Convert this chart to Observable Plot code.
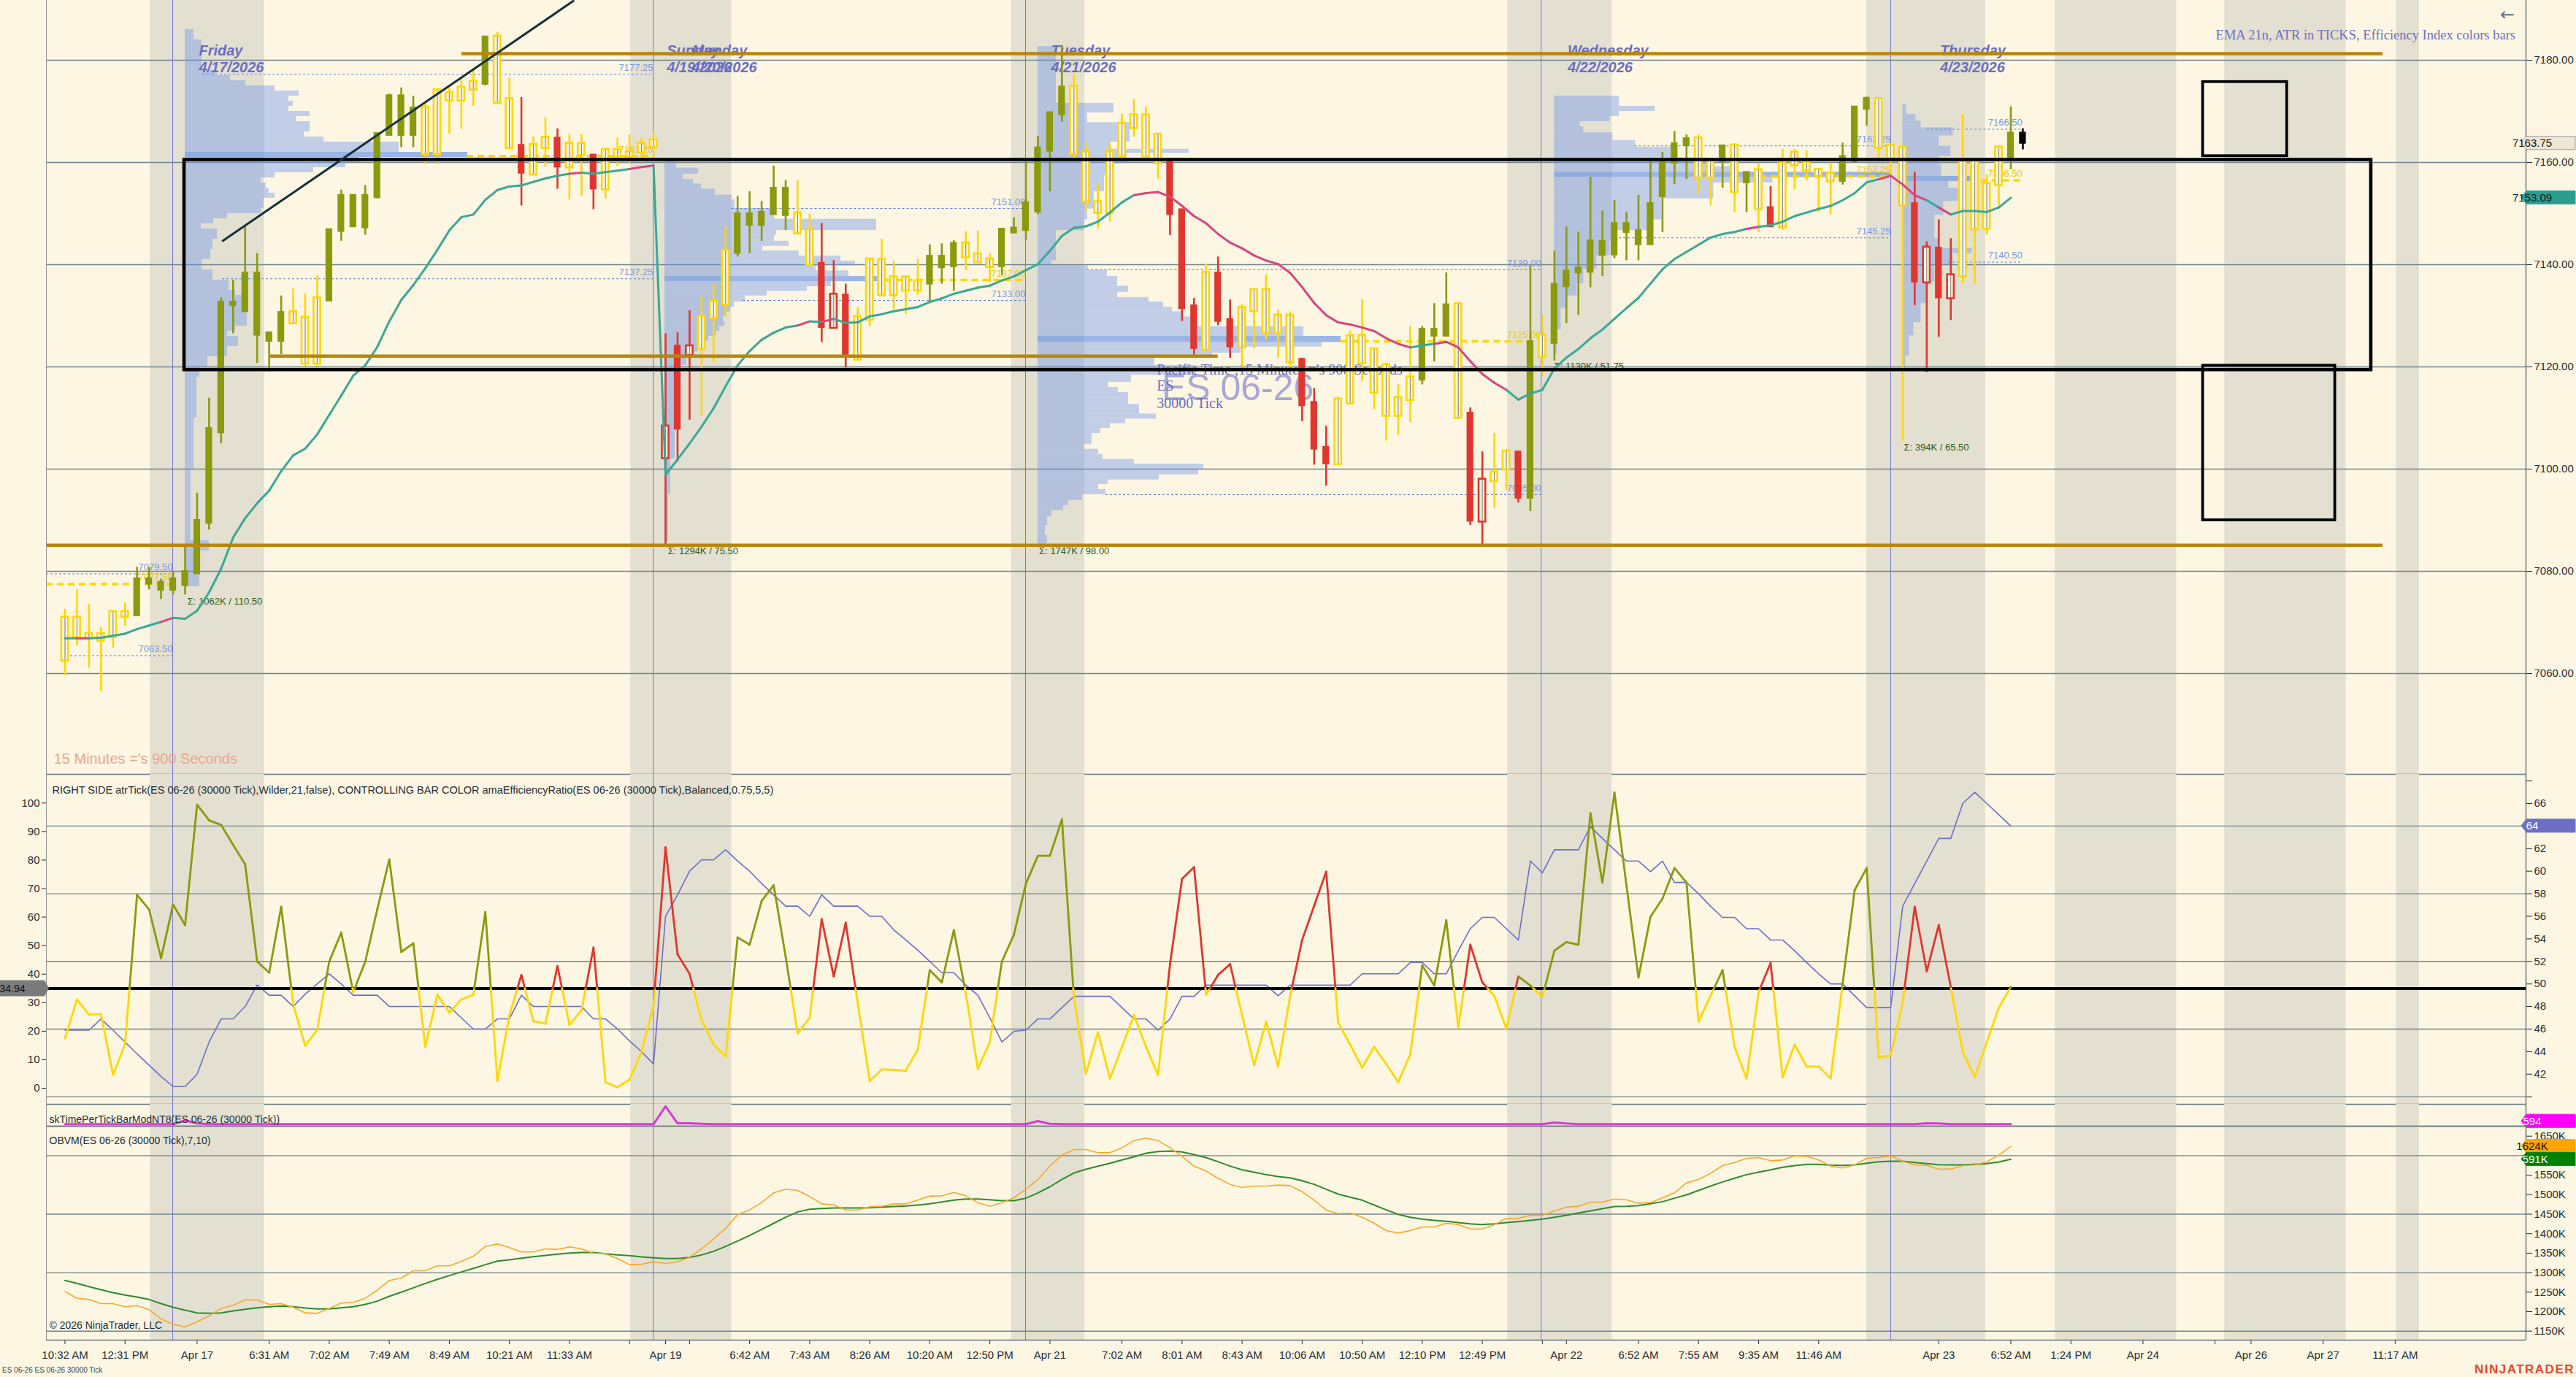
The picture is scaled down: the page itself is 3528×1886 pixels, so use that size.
<!DOCTYPE html>
<html><head><meta charset="utf-8">
<script src="https://cdn.jsdelivr.net/npm/d3@7"></script>
<script src="https://cdn.jsdelivr.net/npm/@observablehq/plot@0.6"></script>
<style>
html,body{margin:0;padding:0;background:#fdf6e3;}
#chart{position:relative;width:3528px;height:1886px;background:#fdf6e3;overflow:hidden;font-family:"Liberation Sans",Arial,sans-serif;}
#chart svg{position:absolute;left:0;overflow:visible;max-width:none;}
.note{position:absolute;white-space:nowrap;}
</style></head><body><div id="chart"></div>
<script>
// ---------------- DATA ----------------
// OHLC per bar (30000-tick bars), index = bar number
const ohlc = [
[7062.6,7072.6,7059.6,7070.9],[7070.9,7076.4,7065.4,7067.2],[7067.7,7073.5,7061.1,7067.0],[7066.5,7069.0,7056.5,7067.7],[7067.2,7072.0,7065.0,7072.0],
[7072.0,7073.8,7069.3,7071.2],[7071.3,7080.8,7071.3,7078.6],[7077.5,7080.8,7076.4,7078.6],[7077.9,7078.5,7074.5,7076.3],[7076.3,7080.0,7075.4,7078.6],
[7077.2,7085.3,7075.4,7080.0],[7079.5,7095.3,7079.5,7090.0],[7089.4,7113.9,7088.1,7108.0],[7107.1,7133.5,7105.0,7132.7],[7132.7,7137.0,7126.5,7132.0],
[7130.8,7147.4,7130.8,7138.4],[7138.4,7142.2,7120.7,7126.2],[7126.7,7126.7,7119.0,7125.0],[7125.0,7133.9,7122.4,7130.7],[7128.6,7135.3,7128.6,7130.7],
[7129.6,7134.3,7120.0,7120.7],[7120.7,7137.9,7120.0,7133.4],[7132.9,7146.9,7132.9,7146.9],[7146.5,7154.6,7144.6,7153.6],[7153.6,7153.6,7147.4,7147.4],
[7147.2,7155.5,7145.8,7153.6],[7153.1,7165.7,7152.9,7165.7],[7165.3,7173.4,7165.3,7173.1],[7173.1,7174.6,7162.9,7165.3],[7165.3,7173.0,7162.9,7170.7],
[7170.7,7171.5,7159.6,7161.7],[7161.7,7174.1,7159.6,7174.1],[7172.2,7174.6,7165.5,7173.6],[7172.2,7176.5,7166.5,7174.6],[7174.3,7178.1,7171.0,7175.8],
[7175.3,7184.6,7175.0,7184.6],[7184.6,7185.5,7171.7,7171.7],[7172.4,7176.5,7162.9,7162.9],[7163.4,7172.7,7151.5,7157.9],[7157.7,7165.0,7157.7,7163.4],
[7162.9,7168.8,7159.1,7164.8],[7164.8,7166.6,7154.8,7159.1],[7159.1,7165.5,7152.7,7163.6],[7163.6,7165.5,7153.4,7161.5],[7161.5,7161.5,7150.8,7154.8],
[7154.8,7162.4,7152.9,7162.4],[7162.4,7164.8,7159.3,7161.2],[7161.2,7165.4,7159.6,7162.0],[7162.0,7164.8,7160.3,7163.6],[7163.1,7166.0,7160.0,7164.3],
[7102.2,7126.5,7085.3,7108.3],[7124.1,7126.7,7101.4,7107.8],[7122.4,7131.0,7109.6,7124.0],[7123.6,7133.8,7110.3,7129.8],[7129.6,7136.2,7120.7,7132.7],
[7132.2,7147.4,7129.8,7142.7],[7142.2,7153.4,7141.5,7150.0],[7150.0,7154.3,7142.2,7147.7],[7147.7,7152.4,7144.6,7150.3],[7149.8,7159.3,7149.8,7155.0],
[7155.0,7156.5,7146.7,7149.6],[7150.0,7156.5,7145.8,7146.2],[7140.0,7149.8,7139.8,7146.7],[7140.3,7148.1,7124.8,7127.7],[7127.7,7140.8,7127.7,7134.1],
[7134.1,7136.2,7119.8,7122.4],[7121.5,7131.7,7121.5,7129.7],[7129.3,7141.0,7127.9,7141.0],[7134.1,7145.0,7134.1,7140.9],[7134.1,7140.7,7131.2,7137.5],
[7135.0,7137.7,7130.3,7137.5],[7135.0,7141.1,7134.0,7136.7],[7136.2,7143.9,7132.7,7141.7],[7139.4,7144.1,7136.2,7141.7],[7139.6,7144.7,7134.8,7144.2],
[7141.5,7146.5,7138.9,7144.1],[7142.0,7146.6,7140.5,7140.5],[7139.6,7142.2,7136.5,7141.0],[7139.6,7147.0,7137.9,7147.0],[7146.2,7149.2,7146.2,7147.2],
[7146.7,7160.5,7144.8,7152.2],[7150.3,7165.1,7149.8,7162.9],[7162.2,7169.8,7154.3,7169.8],[7169.3,7182.9,7167.9,7174.8],[7174.8,7177.2,7160.3,7161.7],
[7162.0,7163.9,7150.3,7152.4],[7152.2,7155.7,7147.0,7150.2],[7150.2,7163.7,7148.4,7162.0],[7161.3,7169.5,7160.9,7167.5],[7166.8,7172.3,7165.0,7169.2],
[7169.2,7170.9,7161.2,7161.2],[7159.9,7165.4,7156.7,7165.4],[7160.2,7160.2,7145.7,7149.8],[7150.8,7150.8,7128.9,7131.4],[7132.0,7133.4,7122.2,7123.6],
[7123.4,7140.0,7123.4,7138.4],[7138.4,7141.5,7128.1,7128.9],[7129.3,7133.1,7121.7,7123.9],[7123.9,7132.2,7119.8,7131.5],[7131.0,7135.0,7123.6,7135.0],
[7126.7,7138.1,7125.3,7135.0],[7130.0,7131.1,7121.7,7126.7],[7130.0,7130.8,7119.8,7121.0],[7121.5,7121.7,7109.3,7112.4],[7113.1,7115.8,7100.8,7103.9],
[7104.3,7108.4,7096.7,7101.0],[7101.0,7114.1,7100.8,7113.6],[7112.9,7127.0,7112.9,7126.0],[7120.8,7133.2,7117.2,7126.0],[7123.4,7123.4,7111.7,7115.0],
[7120.3,7120.8,7105.5,7110.5],[7110.5,7116.5,7106.7,7113.9],[7113.6,7127.9,7109.1,7117.9],[7117.4,7127.9,7116.5,7127.4],[7126.0,7132.4,7121.0,7127.4],
[7126.0,7138.4,7126.0,7132.2],[7132.2,7132.7,7109.8,7110.1],[7111.0,7112.0,7089.0,7089.8],[7089.8,7103.4,7085.3,7097.9],[7097.7,7107.0,7092.4,7099.3],
[7100.0,7103.9,7095.8,7103.4],[7103.4,7103.4,7093.4,7094.3],[7094.3,7139.8,7091.7,7125.0],[7122.0,7130.1,7118.1,7126.2],[7124.6,7142.7,7121.2,7136.2],
[7135.7,7147.4,7128.5,7138.8],[7138.4,7146.4,7130.1,7139.4],[7138.5,7157.1,7135.5,7144.7],[7141.8,7150.5,7137.7,7144.6],[7141.9,7152.6,7141.2,7148.1],
[7146.3,7150.2,7140.8,7148.1],[7143.9,7153.6,7140.8,7146.7],[7143.9,7160.2,7143.9,7152.0],[7153.3,7162.0,7146.3,7160.2],[7159.9,7166.1,7155.7,7163.7],
[7163.3,7165.4,7156.7,7164.7],[7164.7,7165.4,7154.0,7157.1],[7157.1,7159.9,7151.5,7160.2],[7160.2,7163.3,7155.0,7163.3],[7163.3,7163.7,7150.2,7154.3],
[7156.0,7158.1,7150.2,7158.1],[7150.9,7159.9,7146.3,7158.5],[7151.2,7155.3,7147.4,7147.4],[7147.4,7162.6,7146.7,7159.9],[7159.5,7162.6,7154.7,7161.9],
[7159.9,7162.3,7156.4,7158.5],[7158.5,7158.8,7150.2,7157.4],[7157.7,7159.9,7149.8,7156.4],[7156.3,7163.8,7155.6,7161.2],[7160.2,7171.0,7159.9,7170.9],
[7172.6,7172.8,7167.1,7170.4],[7162.9,7172.7,7160.2,7172.4],[7163.2,7163.6,7157.6,7160.9],[7162.9,7163.5,7105.5,7151.7],[7152.0,7158.1,7132.0,7136.6],
[7136.6,7144.5,7118.9,7143.3],[7143.3,7148.8,7125.8,7133.5],[7133.5,7145.1,7129.1,7137.9],[7137.8,7169.4,7136.3,7160.1],[7160.1,7160.1,7136.3,7147.0],
[7147.1,7157.6,7145.8,7155.8],[7155.6,7163.2,7151.4,7162.9],[7160.9,7170.9,7158.6,7165.8],[7165.8,7166.6,7162.5,7163.75]
];
// bar colour from the efficiency index: G olive, Y neutral, R red, K live bar
const barColors = ["YYYYYY","GGGGGGGGGGGGG","YYY","GGGGGGGG","YYYYY","G","YY","R","YY","R","YY","R","YYYYY","RRR","YYY","GGGGG","YY","RRR",
  "YYYYYY","GGG","YYY","GGGGGG","YYYYYYYY","RRR","Y","RR","YYYYY","RRR","YYYYYYY","GGG","Y","RR","YY","R","G","Y","GGGGGGGGGGGG",
  "YY","G","Y","G","Y","R","YYYYY","GGG","YYY","RRRR","YYYY","G","K"].join("").split("");

// EMA(21) values per bar
const ema21 = [7066.9,7066.9,7066.9,7067.0,7067.4,7067.8,7068.7,7069.4,7070.1,7070.9,
7070.7,7072.3,7075.9,7080.5,7086.6,7090.4,7093.3,7095.8,7099.6,7102.7,
7104.0,7106.8,7110.6,7114.4,7118.3,7120.3,7123.9,7128.9,7133.1,7136.0,
7139.3,7142.9,7146.7,7149.3,7149.8,7152.7,7154.6,7155.3,7155.5,7156.2,
7156.9,7157.4,7157.8,7158.0,7157.8,7158.1,7158.4,7158.7,7159.1,7159.4,
7098.9,7101.9,7105.0,7108.3,7111.9,7116.2,7120.3,7123.1,7125.3,7126.7,
7127.7,7128.1,7128.9,7128.8,7129.4,7128.6,7128.7,7129.9,7130.3,7130.9,
7131.3,7131.7,7132.7,7133.4,7134.3,7134.9,7135.5,7135.9,7136.9,7137.7,
7138.9,7140.1,7142.7,7145.6,7147.2,7147.5,7148.4,7150.2,7152.2,7153.6,
7154.0,7154.2,7153.3,7151.5,7149.5,7148.1,7146.0,7144.3,7143.2,7141.8,
7140.8,7140.1,7138.4,7135.6,7132.5,7130.1,7128.7,7128.3,7127.7,7127.0,
7125.6,7124.5,7123.8,7124.2,7124.5,7124.9,7123.8,7121.1,7118.6,7116.9,
7115.5,7113.6,7114.8,7115.5,7119.7,7121.8,7123.5,7125.6,7127.3,7129.4,
7131.5,7133.5,7136.3,7139.1,7141.1,7142.5,7143.9,7145.3,7146.0,7146.4,
7147.0,7147.4,7147.7,7148.4,7149.5,7150.2,7150.9,7151.5,7152.6,7154.0,
7156.1,7156.7,7157.4,7155.7,7153.6,7152.6,7151.2,7149.8,7150.5,7150.5,
7150.3,7151.2,7153.09];
// EMA segments drawn in the "falling" colour (start bar ranges)
const emaFallingRanges = [[1,1],[8,8],[42,42],[47,48],[61,61],[63,63],[89,111],[114,119],[140,140],[151,154],[156,156]];

// Efficiency ratio (left scale) and ATR in ticks (right scale)
const effRatio = [17.5,31.1,25.8,26.0,4.7,15.4,67.8,62.7,45.6,64.4,
57.2,99.4,93.9,92.3,85.3,78.5,44.4,40.5,63.6,29.4,
14.9,20.5,44.4,54.6,33.7,44.4,62.7,80.2,47.8,50.8,
14.5,32.8,26.5,31.1,32.8,61.8,2.5,25.6,39.7,23.5,
22.6,42.8,22.2,27.3,49.3,2.1,0.4,3.0,12.8,29.0,
84.5,46.9,40.1,23.9,15.4,11.1,52.9,50.3,65.7,71.2,
46.1,19.2,24.7,59.3,39.2,58.0,29.9,2.5,6.6,6.4,
6.1,13.6,41.4,37.1,55.4,33.3,6.8,16.2,44.4,53.8,
71.7,81.5,81.5,94.3,31.6,5.1,19.6,3.4,14.5,25.6,
14.5,4.7,43.5,73.4,77.5,32.8,39.7,43.5,25.6,8.1,
23.4,7.6,32.4,52.0,64.0,75.9,23.0,15.3,7.2,14.5,
8.5,2.1,11.9,43.1,36.0,58.9,21.3,50.3,37.1,32.4,
20.9,39.2,36.0,32.0,48.2,51.2,50.3,96.4,72.1,103.7,
71.2,38.8,60.1,66.5,77.2,72.1,23.4,32.4,41.4,14.5,
3.4,33.7,43.9,3.8,15.3,7.6,7.6,3.4,36.7,69.5,
77.2,10.7,11.5,30.0,63.6,41.0,57.2,35.5,12.8,3.8,
16.2,28.2,35.5];
const effThreshold = 34.94;
const atrTicks = [45.9,45.9,45.9,46.9,45.9,44.85,43.8,42.8,41.8,40.9,
40.9,42.0,44.85,46.9,46.9,48.0,49.9,49.0,49.0,48.0,
49.1,50.0,50.9,50.0,49.0,49.0,49.0,48.0,48.0,48.0,
48.0,48.0,48.0,47.0,46.0,46.0,46.9,46.9,49.0,48.0,
48.0,48.0,48.0,48.0,46.9,46.9,46.0,44.95,44.0,42.9,
56.0,57.9,60.0,61.0,61.0,61.9,60.9,60.0,58.9,57.9,
56.9,56.9,56.0,57.9,56.9,56.9,56.9,56.0,56.0,54.8,
53.9,53.0,52.0,51.0,51.0,49.9,49.0,47.0,44.85,45.8,
45.9,46.9,46.9,47.9,48.9,48.9,48.9,48.9,47.9,46.9,
46.9,45.9,46.9,48.9,48.9,49.9,49.9,49.9,49.9,49.9,
49.9,48.95,49.9,49.9,49.9,49.9,49.9,49.9,50.9,50.9,
50.9,50.9,51.9,51.9,50.9,50.9,52.95,54.9,55.9,55.9,
54.9,53.9,60.9,59.85,61.9,61.9,61.9,63.95,62.9,61.9,
60.9,60.9,59.96,60.9,59.0,59.0,58.0,56.9,55.9,55.9,
54.9,54.9,53.9,53.9,52.95,51.9,50.9,50.0,50.0,48.95,
47.9,47.9,47.9,56.9,58.9,60.9,62.9,62.9,66.0,67.0,
66.0,65.0,64.0];

// skTimePerTickBar: [bar, value] vertices
const timePerTick = [[0,600],[9,600],[10,1730],[11,800],[12,600],[49,600],[50,5900],[51,860],[52,860],[53,700],[54,600],
  [80,600],[81,1500],[82,700],[83,600],[123,600],[124,1100],[125,800],[126,620],[154,600],[155,870],[156,800],[157,620],[162,594]];

// OBV (K) and its signal line
const obvLine = [1251.8,1234.3,1231.2,1220.6,1220.6,1212.5,1215.6,1205.0,1181.3,1167.5,
1161.3,1173.8,1189.4,1208.1,1216.2,1230.0,1230.0,1218.7,1220.6,1211.2,
1196.9,1195.6,1208.1,1221.9,1223.7,1234.3,1255.0,1280.0,1286.1,1304.9,
1304.9,1317.4,1317.4,1328.6,1342.3,1367.3,1373.5,1364.2,1353.0,1353.0,
1361.1,1359.8,1366.1,1361.1,1349.8,1348.6,1336.1,1320.5,1321.7,1328.0,
1323.6,1328.0,1339.2,1361.1,1386.0,1414.1,1448.4,1460.9,1479.7,1504.6,
1514.0,1510.9,1495.3,1476.5,1473.4,1460.9,1460.9,1469.0,1470.3,1476.5,
1476.5,1485.9,1496.5,1497.1,1505.9,1497.1,1479.7,1470.3,1479.7,1492.1,
1514.0,1539.0,1573.3,1601.4,1615.7,1615.7,1607.6,1607.6,1620.1,1638.8,
1645.1,1638.8,1620.1,1598.3,1573.3,1560.8,1542.1,1526.5,1518.4,1522.1,
1522.1,1524.6,1523.3,1507.7,1485.9,1460.9,1451.6,1452.8,1442.2,1426.6,
1407.9,1401.6,1407.9,1417.2,1417.2,1426.6,1423.5,1412.2,1412.2,1423.5,
1439.1,1439.1,1447.2,1447.2,1457.8,1468.4,1470.3,1480.9,1480.9,1489.0,
1487.1,1477.8,1479.7,1492.1,1504.6,1530.8,1539.0,1554.6,1574.5,1582.6,
1593.3,1595.1,1587.0,1588.9,1599.5,1598.3,1588.9,1573.3,1568.3,1576.4,
1593.3,1595.1,1599.5,1585.8,1576.4,1575.2,1565.2,1565.8,1574.5,1576.4,
1584.5,1601.4,1623.8];
const obvSignal = [1279.9,1272.4,1264.3,1256.2,1248.7,1242.5,1237.5,1231.2,1220.6,1211.2,
1203.8,1196.9,1195.6,1196.9,1201.9,1206.2,1210.0,1212.5,1214.4,1212.5,
1209.4,1206.9,1206.9,1210.0,1212.5,1218.7,1226.9,1239.3,1250.0,1261.2,
1272.4,1283.0,1292.4,1301.8,1311.1,1320.5,1329.8,1333.0,1337.3,1341.1,
1344.2,1347.3,1350.5,1351.7,1351.7,1348.6,1345.4,1343.6,1340.4,1338.0,
1336.1,1336.1,1339.2,1345.4,1354.8,1367.3,1381.0,1395.4,1411.0,1426.6,
1442.2,1455.9,1462.8,1464.7,1465.9,1465.9,1465.9,1466.5,1468.4,1469.7,
1470.9,1473.4,1476.5,1481.5,1485.9,1489.0,1489.0,1487.1,1484.6,1484.6,
1490.9,1504.6,1520.2,1539.0,1555.8,1565.2,1573.3,1580.8,1588.9,1597.0,
1606.4,1610.7,1612.0,1609.5,1602.6,1595.1,1584.5,1573.3,1563.9,1557.7,
1551.4,1546.4,1543.3,1535.8,1526.5,1514.0,1501.5,1493.4,1485.9,1473.4,
1460.9,1449.7,1442.2,1437.2,1434.1,1431.6,1428.5,1425.3,1423.5,1425.3,
1428.5,1431.0,1434.1,1437.2,1442.2,1447.2,1453.4,1458.4,1464.1,1469.7,
1470.3,1472.2,1476.5,1482.1,1490.9,1499.6,1510.9,1522.1,1532.7,1542.1,
1551.4,1557.7,1563.9,1570.2,1574.5,1577.7,1577.7,1575.8,1575.2,1576.4,
1580.8,1584.5,1585.8,1585.8,1582.6,1579.5,1577.0,1576.4,1576.4,1577.7,
1579.5,1583.9,1590.8];

// volume profiles: start bar + rows [low, high, volume(rel), poc]
const profileFri = {start: 10.0, rows: [[7184,7186,12],[7178,7184,23],[7177,7178,42],[7176,7177,62],[7175,7176,83],[7174,7175,123],[7173,7174,156],[7172,7173,142],[7171,7172,148],[7170,7171,142],[7169,7170,171],[7168,7169,152],[7166,7168,171],[7165,7166,163],[7164,7165,190],[7162,7164,293],[7161,7162,387,1],[7160,7161,238],[7159,7160,220],[7158,7159,176],[7157,7158,123],[7156,7157,104],[7155,7156,111],[7154,7155,115],[7153,7154,123],[7151,7153,108],[7150,7151,104],[7149,7150,58],[7148,7149,39],[7147,7148,22],[7145,7147,44],[7143,7145,38],[7141,7143,35],[7139,7141,23],[7137,7139,38],[7135,7137,60],[7134,7135,69],[7132,7134,81],[7128,7132,85],[7127,7128,69],[7126,7127,58],[7124,7126,73],[7122,7124,58],[7120,7122,31],[7118,7120,20],[7110,7118,16],[7100,7110,12],[7086,7100,8],[7084,7086,33],[7077,7084,20]]};
const profileMon = {start: 49.94, rows: [[7158.9,7160.3,16],[7157.7,7158.9,46],[7156.7,7157.7,25],[7155.8,7156.7,39],[7154.8,7155.8,50],[7153.6,7154.8,69],[7152.7,7153.6,92],[7151.0,7152.7,96],[7148.9,7151.0,150],[7146.7,7148.9,290],[7145.8,7146.7,153],[7144.6,7145.8,150],[7143.6,7144.6,170],[7142.7,7143.6,134],[7141.7,7142.7,184],[7140.7,7141.7,241],[7139.8,7140.7,261],[7138.8,7139.8,207],[7137.7,7138.8,252],[7136.7,7137.7,295,1],[7135.7,7136.7,228],[7134.8,7135.7,195],[7133.9,7134.8,140],[7132.7,7133.9,110],[7131.7,7132.7,95],[7130.8,7131.7,90],[7129.8,7130.8,85],[7128.9,7129.8,80],[7127.9,7128.9,82],[7127.0,7127.9,75],[7126.0,7127.0,70],[7125.0,7126.0,60],[7123.9,7125.0,55],[7122.9,7123.9,45],[7121.7,7122.9,40],[7120.3,7121.7,30],[7115.0,7120.3,22],[7108.0,7115.0,18],[7102.0,7108.0,14],[7095.0,7102.0,8],[7086.0,7095.0,5]]};
const profileTue = {start: 81.0, rows: [[7171.6,7182.7,25],[7169.7,7171.6,104],[7167.8,7169.7,68],[7164.0,7167.8,126],[7162.6,7164.0,99],[7161.8,7162.6,207],[7159.8,7161.8,122],[7157.4,7159.8,104],[7154.3,7157.4,91],[7150.9,7154.3,77],[7148.8,7150.9,68],[7146.7,7148.8,64],[7140.8,7146.7,25],[7139.8,7140.8,19],[7138.9,7139.8,69],[7137.7,7138.9,95],[7135.8,7137.7,109],[7134.6,7135.8,124],[7133.6,7134.6,109],[7132.7,7133.6,152],[7131.7,7132.7,172],[7130.8,7131.7,184],[7129.8,7130.8,198],[7128.9,7129.8,211],[7127.9,7128.9,211],[7127.0,7127.9,364],[7126.0,7127.0,364],[7124.8,7126.0,415,1],[7123.9,7124.8,389],[7122.7,7123.9,278],[7122.0,7122.7,239],[7120.3,7122.0,160],[7118.4,7120.3,217],[7117.0,7118.4,128],[7116.0,7117.0,96],[7115.0,7116.0,110],[7113.9,7115.0,124],[7112.7,7113.9,124],[7111.7,7112.7,139],[7110.8,7111.7,139],[7109.8,7110.8,162],[7108.9,7109.8,120],[7108.0,7108.9,99],[7107.0,7108.0,86],[7104.8,7107.0,74],[7103.9,7104.8,64],[7102.9,7103.9,83],[7101.9,7102.9,89],[7101.0,7101.9,132],[7100.0,7101.0,227],[7098.9,7100.0,220],[7097.9,7098.9,166],[7097.0,7097.9,96],[7096.0,7097.0,83],[7095.0,7096.0,93],[7093.9,7095.0,61],[7092.9,7093.9,42],[7091.9,7092.9,35],[7090.7,7091.9,19],[7088.9,7090.7,13],[7087.0,7088.9,10],[7085.3,7087.0,13]]};
const profileWed = {start: 124.0, rows: [[7171,7173,89],[7170,7171,138],[7169,7170,89],[7168,7169,76],[7167,7168,35],[7165.8,7167,40],[7164.3,7165.8,80],[7163,7164.3,111],[7160.9,7163,165],[7159.2,7160.9,209],[7158.1,7159.2,250],[7157.1,7158.1,460,1],[7156,7157.1,299],[7152.9,7156,218],[7148.8,7152.9,147],[7146.7,7148.8,129],[7144.6,7146.7,80],[7141.8,7144.6,76],[7139.1,7141.8,58],[7136.3,7139.1,40],[7133.9,7136.3,31],[7131.5,7133.9,18],[7127.3,7131.5,9],[7122.5,7127.3,4]]};
const profileThu = {start: 153.0, rows: [[7169.4,7171.4,5],[7168.1,7169.4,18],[7166.8,7168.1,25],[7165.2,7166.8,69],[7163.2,7165.2,50],[7161.2,7163.2,66],[7159.6,7161.2,50],[7157.3,7159.6,53],[7156.3,7157.3,95,1],[7155,7156.3,63],[7152.4,7155,76],[7149.7,7152.4,56],[7147.1,7149.7,44],[7145.1,7147.1,44],[7143.2,7145.1,50],[7142.2,7143.2,95],[7139.9,7142.2,69],[7136.6,7139.9,44],[7132.4,7136.6,34],[7128.7,7132.4,25],[7126.1,7128.7,15],[7122.2,7126.1,9],[7119.6,7122.2,4]]};
const profileVolPerBar = 16.45; // relative volume units per bar width

// value area lines: [fromBar, toBar, price, kind, label]
const valueAreaLines = [
 [-1.55,8.97,7079.5,"va","7079.50"],[-1.55,8.97,7077.5,"poc","7077.50"],[-0.27,8.97,7063.5,"va","7063.50"],
 [11.46,48.97,7177.25,"va","7177.25"],[33.46,48.97,7161.25,"poc","7161.25"],[13.1,48.97,7137.25,"va","7137.25"],
 [55.5,79.97,7151.0,"va","7151.00"],[68.2,79.97,7137.0,"poc","7137.00"],[56.45,79.97,7133.0,"va","7133.00"],
 [85.1,122.9,7139.0,"va","7139.00"],[106.2,122.9,7125.0,"poc","7125.00"],[86.65,122.9,7095.0,"va","7095.00"],
 [130.7,152.0,7163.25,"va","7163.25"],[141.1,152.0,7157.25,"poc","7157.25"],[129.4,152.0,7145.25,"va","7145.25"],
 [155.0,162.96,7166.5,"va","7166.50"],[158.6,162.96,7156.5,"poc","7156.50"],[156.8,162.96,7140.5,"va","7140.50"]
];
// profile totals: [bar, price, text]
const profileTotals = [[10.2,7074.1,"Σ: 1062K / 110.50"],[50.2,7083.9,"Σ: 1294K / 75.50"],[81.1,7083.9,"Σ: 1747K / 98.00"],[124.0,7120.1,"Σ: 1130K / 51.75"],[153.1,7104.3,"Σ: 394K / 65.50"]];

// drawing objects
const goldLines = [[33.04,192.97,7181.3],[17.11,96.0,7122.1],[-1.55,192.97,7085.1]];
const bigBox = [[9.94,192.0,7119.4,7160.5]];
const smallBoxes = [[178.0,185.0,7161.25,7175.75],[178.0,189.0,7090.0,7120.25]];
const trendLine = [[13.08,7144.57,42.39,7191.71]];

// sessions
const sessionBands = [[7.1,16.6],[47.1,55.5],[78.8,84.9],[120.1,128.8],[150.0,159.9],[165.7,175.8],[179.8,189.9],[194.1,196.0]];
const sessionBreaks = [8.97,48.97,79.97,122.9,152.0];
const dayNames = [[11.15,"Friday","4/17/2026"],[50.1,"Sunday","4/19/2026"],[52.2,"Monday","4/20/2026"],[82.1,"Tuesday","4/21/2026"],[125.1,"Wednesday","4/22/2026"],[156.1,"Thursday","4/23/2026"]];

// time axis
const timeTickBars = [0,5,11,17,22,27,32,37,42,47,50,52,57,62,67,72,77,82,88,93,98,103,108,113,118,123,125,131,136,141,146,156,162,167,173,179,182,188,194];
const timeTickLabels = ["10:32 AM","12:31 PM","Apr 17","6:31 AM","7:02 AM","7:49 AM","8:49 AM","10:21 AM","11:33 AM","","Apr 19","","6:42 AM","7:43 AM","8:26 AM","10:20 AM","12:50 PM","Apr 21","7:02 AM","8:01 AM","8:43 AM","10:06 AM","10:50 AM","12:10 PM","12:49 PM","","Apr 22","6:52 AM","7:55 AM","9:35 AM","11:46 AM","Apr 23","6:52 AM","1:24 PM","Apr 24","","Apr 26","Apr 27","11:17 AM"];
const priceTicks = [7060,7080,7100,7120,7140,7160,7180];
const atrAxisTicks = [40,42,44,46,48,50,52,54,56,58,60,62,64,66,68];
const atrGrid = [40,46,52,58,64];
const effAxisTicks = [0,10,20,30,40,50,60,70,80,90,100];
const obvAxisTicks = [1150,1200,1250,1300,1350,1400,1450,1500,1550,1600,1650];
const obvGrid = [1150,1300,1450,1600];

// ---------------- CHART ----------------
const W = 3528;
const XMIN = -1.55, XMAX = 204.89;
const PRICE_MAX = 7180 + 82/7, PRICE_MIN = PRICE_MAX - 1060/7;
const ATR_DOM = [39.33, 68.59], EFF_DOM = [-5.63, 110.06], SK_DOM = [0, 6500], OBV_DOM = [1126.97, 1675.66];
const FONT = '"Liberation Sans", Arial, sans-serif';
const SERIF = '"Liberation Serif", "Times New Roman", serif';
const BG = "#fdf6e3", BAND = "#e3e0d1", GRID = "#72858c", SEP = "#6f74d8", BORDER = "#66787f";
const OLIVE = "#8a9a0c", YEL = "#ffd700", RED = "#e0362e", BLK = "#000000";
const TEAL = "#3aa896", PINK = "#d8467f", DAYC = "#6a6dc4";
const colorOf = c => ({G: OLIVE, Y: YEL, R: RED, K: BLK})[c];

const chart = document.getElementById("chart");
function basePlot(opts) {
  return Plot.plot(Object.assign({
    width: W, marginLeft: 63, marginRight: 69, marginTop: 0, marginBottom: 0,
    style: {background: "transparent", overflow: "visible", fontFamily: FONT, fontSize: "15px", color: "#1f2d37", maxWidth: "none"},
    color: {type: "identity"}
  }, opts));
}
function place(p, top) { p.style.position = "absolute"; p.style.top = top + "px"; p.style.left = "0px"; chart.appendChild(p); return p; }
const bandMark = () => Plot.rect(sessionBands, {x1: d => d[0], x2: d => d[1], fill: BAND});
const breakMark = () => Plot.ruleX(sessionBreaks, {stroke: SEP, strokeWidth: 1});
const borderMarks = () => [Plot.ruleX([XMIN], {stroke: "#8c9496", strokeWidth: 1}), Plot.ruleX([XMAX], {stroke: BORDER, strokeWidth: 1.5})];

// candles
const candles = ohlc.map((r, i) => ({i, o: r[0], h: r[1], l: r[2], c: r[3], col: barColors[i]}));
const isHollow = d => d.col === "Y" || (d.col === "R" && d.c > d.o);
const bodyHalf = 0.28;
// EMA segments
const isFalling = i => emaFallingRanges.some(([a, b]) => i >= a && i <= b);
const emaSegs = ema21.slice(1).map((v, k) => ({x1: k, y1: ema21[k], x2: k + 1, y2: v, pink: isFalling(k)}));
// profiles
const profRects = [];
for (const p of [profileFri, profileMon, profileTue, profileWed, profileThu])
  for (const r of p.rows) profRects.push({x1: p.start, x2: p.start + r[2] / profileVolPerBar, y1: r[0], y2: r[1], poc: !!r[3]});
const vaData = valueAreaLines.map(d => ({x1: d[0], x2: d[1], y: d[2], kind: d[3], label: d[4]}));

const pricePlot = place(basePlot({
  height: 1060,
  x: {domain: [XMIN, XMAX], axis: null},
  y: {domain: [PRICE_MIN, PRICE_MAX], axis: "right", ticks: priceTicks, tickFormat: d => d.toFixed(2), tickSize: 8, tickPadding: 3, label: null},
  marks: [
    bandMark(),
    Plot.ruleY(priceTicks, {stroke: GRID, strokeWidth: 1.4}),
    breakMark(),
    Plot.rect(profRects.filter(d => !d.poc), {x1: "x1", x2: "x2", y1: "y1", y2: "y2", fill: "#6f96ec", fillOpacity: 0.42}),
    Plot.rect(profRects.filter(d => d.poc), {x1: "x1", x2: "x2", y1: "y1", y2: "y2", fill: "#5a8ae6", fillOpacity: 0.6}),
    Plot.ruleY(vaData.filter(d => d.kind === "va"), {x1: "x1", x2: "x2", y: "y", stroke: "#5b7fd8", strokeWidth: 1.2, strokeDasharray: "3,3"}),
    Plot.ruleY(vaData.filter(d => d.kind === "poc"), {x1: "x1", x2: "x2", y: "y", stroke: YEL, strokeWidth: 3.5, strokeDasharray: "9,6"}),
    Plot.text(vaData, {x: "x2", y: "y", text: "label", textAnchor: "end", dy: -9, fontSize: 13, fill: d => d.kind === "poc" ? "#ecc820" : "#7b98e0"}),
    Plot.text(profileTotals, {x: d => d[0], y: d => d[1], text: d => d[2], textAnchor: "start", fontSize: 13, fill: "#2d5a16"}),
    // watermark & notes
    Plot.text(["ES 06-26"], {x: 91.3, y: 7113.43, text: d => d, textAnchor: "start", lineAnchor: "bottom", fontSize: 50, fill: "#a9a7d4"}),
    Plot.text([["Pacific Time ,15 Minutes ='s 900 Seconds", 7118.43], ["ES", 7115.29], ["30000 Tick", 7112.0]], {x: 90.9, y: d => d[1], text: d => d[0], textAnchor: "start", lineAnchor: "bottom", fontSize: 20, fontFamily: SERIF, fill: "#6c6fc4"}),
    Plot.text(["15 Minutes ='s 900 Seconds"], {x: -0.93, y: 7043.3, text: d => d, textAnchor: "start", fontSize: 20, fill: "#eca58d"}),
    Plot.text(dayNames, {x: d => d[0], frameAnchor: "top", dy: 61, text: d => d[1], textAnchor: "start", fontSize: 20, fontWeight: "bold", fontStyle: "italic", fill: DAYC}),
    Plot.text(dayNames, {x: d => d[0], frameAnchor: "top", dy: 84, text: d => d[2], textAnchor: "start", fontSize: 20, fontWeight: "bold", fontStyle: "italic", fill: DAYC}),
    // candles
    Plot.ruleX(candles, {x: "i", y1: "l", y2: "h", stroke: d => colorOf(d.col), strokeWidth: 2.6}),
    Plot.rect(candles.filter(d => !isHollow(d)), {x1: d => d.i - bodyHalf, x2: d => d.i + bodyHalf, y1: "o", y2: "c", fill: d => colorOf(d.col), insetTop: -1, insetBottom: -1}),
    Plot.rect(candles.filter(isHollow), {x1: d => d.i - bodyHalf, x2: d => d.i + bodyHalf, y1: "o", y2: "c", fill: BG, stroke: d => colorOf(d.col), strokeWidth: 2.6, insetTop: -1, insetBottom: -1}),
    Plot.ruleX(candles.filter(isHollow), {x: "i", y1: "o", y2: "c", stroke: "#8e8b7c", strokeWidth: 1.2}),
    // EMA
    Plot.link(emaSegs, {x1: "x1", y1: "y1", x2: "x2", y2: "y2", stroke: d => d.pink ? PINK : TEAL, strokeWidth: 3, strokeLinecap: "round"}),
    // drawing objects
    Plot.ruleY(goldLines, {x1: d => d[0], x2: d => d[1], y: d => d[2], stroke: "#b8860b", strokeWidth: 4.5}),
    Plot.rect(bigBox, {x1: d => d[0], x2: d => d[1], y1: d => d[2], y2: d => d[3], fill: "none", stroke: "#000", strokeWidth: 4.6}),
    Plot.rect(smallBoxes, {x1: d => d[0], x2: d => d[1], y1: d => d[2], y2: d => d[3], fill: "none", stroke: "#000", strokeWidth: 3.8}),
    Plot.link(trendLine, {x1: d => d[0], y1: d => d[1], x2: d => d[2], y2: d => d[3], stroke: "#17303a", strokeWidth: 3}),
    ...borderMarks(),
    Plot.ruleY([PRICE_MIN], {stroke: BORDER, strokeWidth: 1.6})
  ]
}), 0);

// ATR panel (right scale)
const atrPlot = place(basePlot({
  height: 452,
  x: {domain: [XMIN, XMAX], axis: null},
  y: {domain: ATR_DOM, axis: "right", ticks: atrAxisTicks, tickFormat: d => (d === 40 || d === 68) ? "" : String(d), tickSize: 8, tickPadding: 3, label: null},
  marks: [
    bandMark(), breakMark(),
    Plot.ruleY(atrGrid, {stroke: GRID, strokeWidth: 1.4}),
    Plot.ruleY([ATR_DOM[0]], {stroke: BORDER, strokeWidth: 1.6}),
    Plot.line(atrTicks.map((v, i) => [i, v]), {x: d => d[0], y: d => d[1], stroke: "#6b6fc8", strokeWidth: 1.6}),
    ...borderMarks()
  ]
}), 1060);

// Efficiency ratio overlay (left scale), coloured by threshold
const erSegs = [];
const above = (c) => c === "R" ? RED : OLIVE;
for (let i = 1; i < effRatio.length; i++) {
  const a = effRatio[i - 1], b = effRatio[i], T = effThreshold;
  const ca = barColors[i - 1], cb = barColors[i];
  if ((a >= T) === (b >= T)) {
    erSegs.push({x1: i - 1, y1: a, x2: i, y2: b, s: a >= T ? (cb === "R" || cb === "G" ? above(cb) : above(ca)) : YEL});
  } else {
    const xm = i - 1 + (T - a) / (b - a);
    erSegs.push({x1: i - 1, y1: a, x2: xm, y2: T, s: a >= T ? above(ca) : YEL});
    erSegs.push({x1: xm, y1: T, x2: i, y2: b, s: b >= T ? above(cb) : YEL});
  }
}
const erPlot = place(basePlot({
  height: 452,
  x: {domain: [XMIN, XMAX], axis: null},
  y: {domain: EFF_DOM, axis: "left", ticks: effAxisTicks, tickSize: 6, tickPadding: 3, label: null},
  marks: [
    Plot.ruleY([effThreshold], {stroke: "#000", strokeWidth: 4.2}),
    Plot.link(erSegs, {x1: "x1", y1: "y1", x2: "x2", y2: "y2", stroke: "s", strokeWidth: 2.8, strokeLinecap: "round"}),
    Plot.text(["RIGHT SIDE atrTick(ES 06-26 (30000 Tick),Wilder,21,false), CONTROLLING BAR COLOR amaEfficiencyRatio(ES 06-26 (30000 Tick),Balanced,0.75,5,5)"],
      {frameAnchor: "top-left", dx: 8, dy: 16, text: d => d, textAnchor: "start", fontSize: 14.5, fill: "#1f2d37"})
  ]
}), 1060);

// skTimePerTick panel
const skPlot = place(basePlot({
  height: 30,
  x: {domain: [XMIN, XMAX], axis: null},
  y: {domain: SK_DOM, axis: null},
  marks: [
    bandMark(), breakMark(),
    Plot.ruleY([SK_DOM[0]], {stroke: BORDER, strokeWidth: 1.6}),
    Plot.line(timePerTick, {x: d => d[0], y: d => d[1], stroke: "#d63ad6", strokeWidth: 3}),
    Plot.text(["skTimePerTickBarModNT8(ES 06-26 (30000 Tick))"], {frameAnchor: "top-left", dx: 4, dy: 16, text: d => d, textAnchor: "start", fontSize: 14, fill: "#1f2d37"}),
    ...borderMarks()
  ]
}), 1512);

// OBV panel with time axis
const tickLabelMap = new Map(timeTickBars.map((b, k) => [b, timeTickLabels[k]]));
const obvPlot = place(basePlot({
  height: 344, marginBottom: 51,
  x: {domain: [XMIN, XMAX], ticks: timeTickBars, tickFormat: d => tickLabelMap.get(d) ?? "", tickSize: 6, tickPadding: 9, label: null},
  y: {domain: OBV_DOM, axis: "right", ticks: obvAxisTicks, tickFormat: d => d + "K", tickSize: 8, tickPadding: 3, label: null},
  marks: [
    bandMark(), breakMark(),
    Plot.ruleY(obvGrid, {stroke: GRID, strokeWidth: 1.4}),
    Plot.ruleY([OBV_DOM[0]], {stroke: BORDER, strokeWidth: 1.6}),
    Plot.ruleY([OBV_DOM[1]], {stroke: BORDER, strokeWidth: 1.6}),
    Plot.line(obvSignal.map((v, i) => [i, v]), {x: d => d[0], y: d => d[1], stroke: "#2e8b2e", strokeWidth: 2}),
    Plot.line(obvLine.map((v, i) => [i, v]), {x: d => d[0], y: d => d[1], stroke: "#f7a82a", strokeWidth: 1.6}),
    Plot.text(["OBVM(ES 06-26 (30000 Tick),7,10)"], {frameAnchor: "top-left", dx: 4, dy: 15, text: d => d, textAnchor: "start", fontSize: 14, fill: "#1f2d37"}),
    Plot.text(["© 2026 NinjaTrader, LLC"], {frameAnchor: "bottom-left", dx: 4, dy: -16, text: d => d, textAnchor: "start", fontSize: 14, fill: "#1f2d37"}),
    ...borderMarks()
  ]
}), 1542);

// ---------------- value tags on the axes ----------------
function tagRight(p, value, text, fill, textColor, stroke, yOff = 0) {
  const x0 = p.scale("x").apply(XMAX), y = p.scale("y").apply(value) + yOff, h = 9;
  const g = d3.select(p).append("g");
  g.append("path").attr("d", `M${x0 - 6},${y}L${x0 + 1},${y - h}H${W - 1}V${y + h}H${x0 + 1}Z`).attr("fill", fill).attr("stroke", stroke || fill);
  g.append("text").attr("x", x0 + 9).attr("y", y).attr("dy", "0.36em").attr("fill", textColor).attr("font-size", 15).attr("font-family", FONT).text(text);
}
function tagLeft(p, value, text, fill, textColor) {
  const x0 = p.scale("x").apply(XMIN), y = p.scale("y").apply(value), h = 11;
  const g = d3.select(p).append("g");
  g.append("path").attr("d", `M0,${y - h}H${x0 - 2}L${x0 + 4},${y}L${x0 - 2},${y + h}H0Z`).attr("fill", fill);
  g.append("text").attr("x", 17).attr("y", y).attr("dy", "0.36em").attr("fill", textColor).attr("font-size", 14).attr("font-family", FONT).text(text);
}
tagRight(pricePlot, ohlc[ohlc.length - 1][3], ohlc[ohlc.length - 1][3].toFixed(2), "#eee7d6", "#111", "#9a9a9a");
tagRight(pricePlot, ema21[ema21.length - 1], ema21[ema21.length - 1].toFixed(2), "#2a9d8f", "#0b1a1a");
tagRight(atrPlot, atrTicks[atrTicks.length - 1], String(atrTicks[atrTicks.length - 1]), "#6b6fc8", "#ffffff");
tagLeft(erPlot, effThreshold, effThreshold.toFixed(2), "#7b7b7b", "#111");
tagRight(skPlot, timePerTick[timePerTick.length - 1][1], String(timePerTick[timePerTick.length - 1][1]), "#ff00ff", "#ffffff", null, -4);
tagRight(obvPlot, obvLine[obvLine.length - 1], Math.round(obvLine[obvLine.length - 1]) + "K", "#ffa500", "#111");
tagRight(obvPlot, obvSignal[obvSignal.length - 1], Math.round(obvSignal[obvSignal.length - 1]) + "K", "#008000", "#ffffff");

// ---------------- page notes ----------------
function note(text, css) { const d = document.createElement("div"); d.className = "note"; d.textContent = text; Object.assign(d.style, css); chart.appendChild(d); }
note("EMA 21n, ATR in TICKS, Efficiency Index colors bars", {right: "83px", top: "38px", fontFamily: SERIF, fontSize: "18.5px", color: "#6c6fc4"});
note("\u2190", {left: "3424px", top: "6px", fontSize: "24px", color: "#5f7480", fontFamily: "DejaVu Sans"});
note("ES 06-26 ES 06-26 30000 Tick", {left: "3px", top: "1871px", fontSize: "10px", color: "#3a4a55"});
note("NINJATRADER", {right: "2px", top: "1866px", fontSize: "17px", fontWeight: "bold", letterSpacing: "1.5px", color: "#e8472c"});
</script></body></html>
